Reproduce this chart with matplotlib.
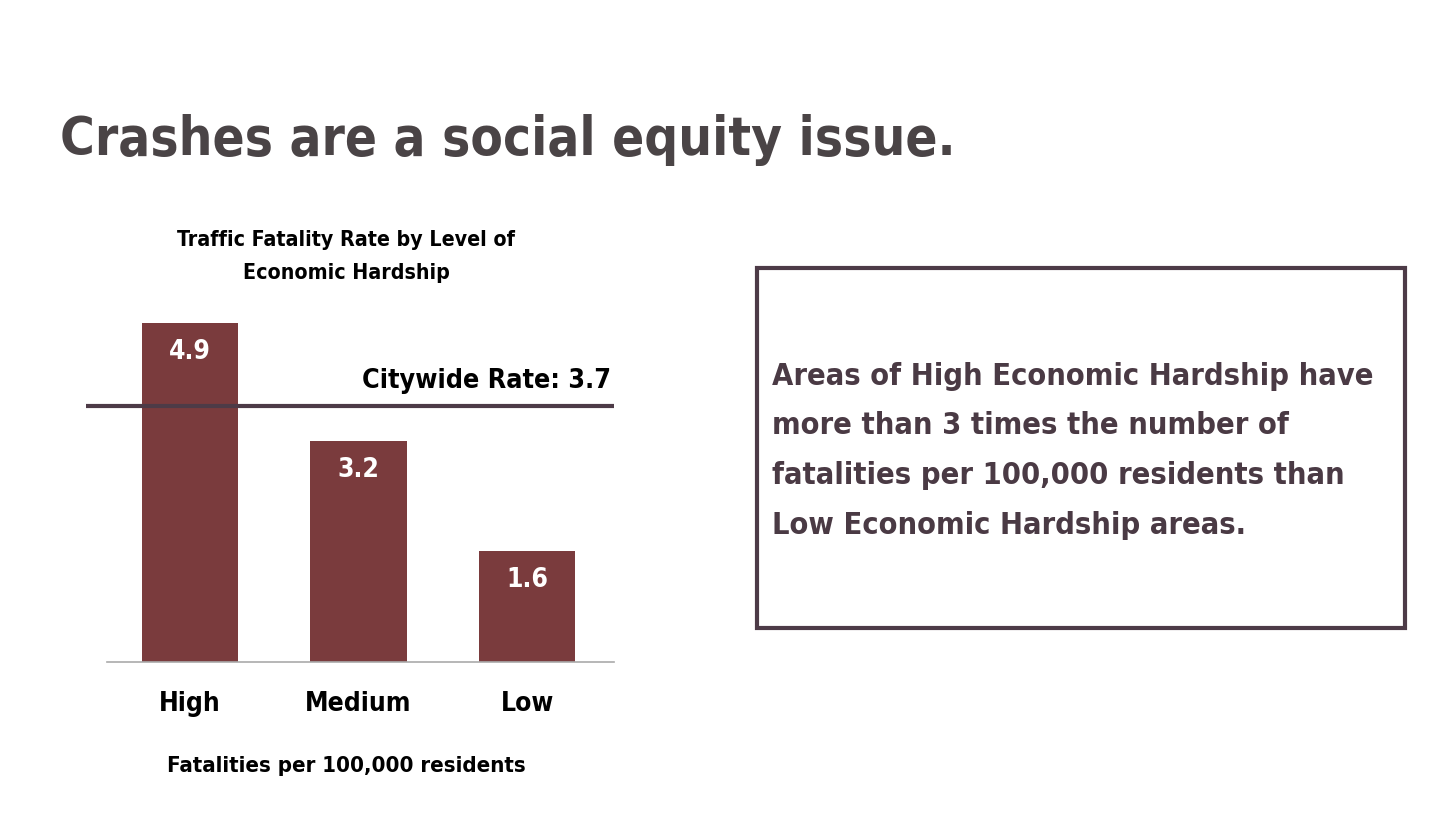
import matplotlib
matplotlib.use('Agg')
import matplotlib.pyplot as plt
from matplotlib import font_manager
from matplotlib.patches import Rectangle

levels = ['High', 'Medium', 'Low']
rates = [4.9, 3.2, 1.6]
citywide_rate = 3.7

names = {f.name for f in font_manager.fontManager.ttflist}
if 'Liberation Sans Narrow' in names:
    plt.rcParams['font.family'] = ['Liberation Sans Narrow', 'DejaVu Sans']
else:
    plt.rcParams['font.family'] = ['DejaVu Sans']
    plt.rcParams['font.stretch'] = 'condensed'
plt.rcParams['font.weight'] = 'bold'

W, H = 1455, 831
fig = plt.figure(figsize=(W / 100, H / 100), dpi=100)
fig.patch.set_facecolor('white')

# page title
fig.text(60 / W, 1 - 155 / H, 'Crashes are a social equity issue.', fontsize=38,
         color='#4a4446', fontweight='bold', ha='left', va='baseline')

# bar chart, placed in pixel terms
ax = fig.add_axes([86 / W, 1 - 662 / H, (614 - 86) / W, (662 - 290) / H])
x = list(range(len(levels)))
ax.bar(x, rates, width=0.57, color='#7a3b3d', zorder=2)
ax.set_xlim(-0.617, 2.516)
ax.set_ylim(0, (662 - 290) / 69.2)
ax.axis('off')

# baseline
ax.plot([-0.493, 2.516], [0, 0], color='#aaaaaa', lw=1.2, zorder=3, clip_on=False)

# citywide rate line
ax.axhline(citywide_rate, color='#4d3b47', lw=3, zorder=4)
ax.text(2.5, citywide_rate + 0.36, f'Citywide Rate: {citywide_rate}', fontsize=19.3,
        color='black', ha='right', va='center')

for xi, v in zip(x, rates):
    ax.text(xi, v - 0.42, f'{v}', fontsize=19, color='white', ha='center', va='center', zorder=5)
    ax.text(xi, -0.61, levels[xi], fontsize=19, color='black', ha='center', va='center',
            clip_on=False)

fig.text(346 / W, 1 - 240 / H, 'Traffic Fatality Rate by Level of', fontsize=15.3,
         color='black', ha='center', va='center')
fig.text(346 / W, 1 - 273 / H, 'Economic Hardship', fontsize=15.3,
         color='black', ha='center', va='center')
fig.text(346 / W, 1 - 766 / H, 'Fatalities per 100,000 residents', fontsize=15.9,
         color='black', ha='center', va='center')

# text box on the right
fig.patches.append(Rectangle((757 / W, 1 - 628 / H), (1405 - 757) / W, (628 - 268) / H,
                             transform=fig.transFigure, fill=False,
                             edgecolor='#4d3b47', lw=3))
box_lines = ['Areas of High Economic Hardship have',
             'more than 3 times the number of',
             'fatalities per 100,000 residents than',
             'Low Economic Hardship areas.']
for i, line in enumerate(box_lines):
    fig.text(772 / W, 1 - (376 + 50 * i) / H, line, fontsize=22.1, color='#4a3a44',
             ha='left', va='center')

fig.savefig('out.png', dpi=100, facecolor='white')
